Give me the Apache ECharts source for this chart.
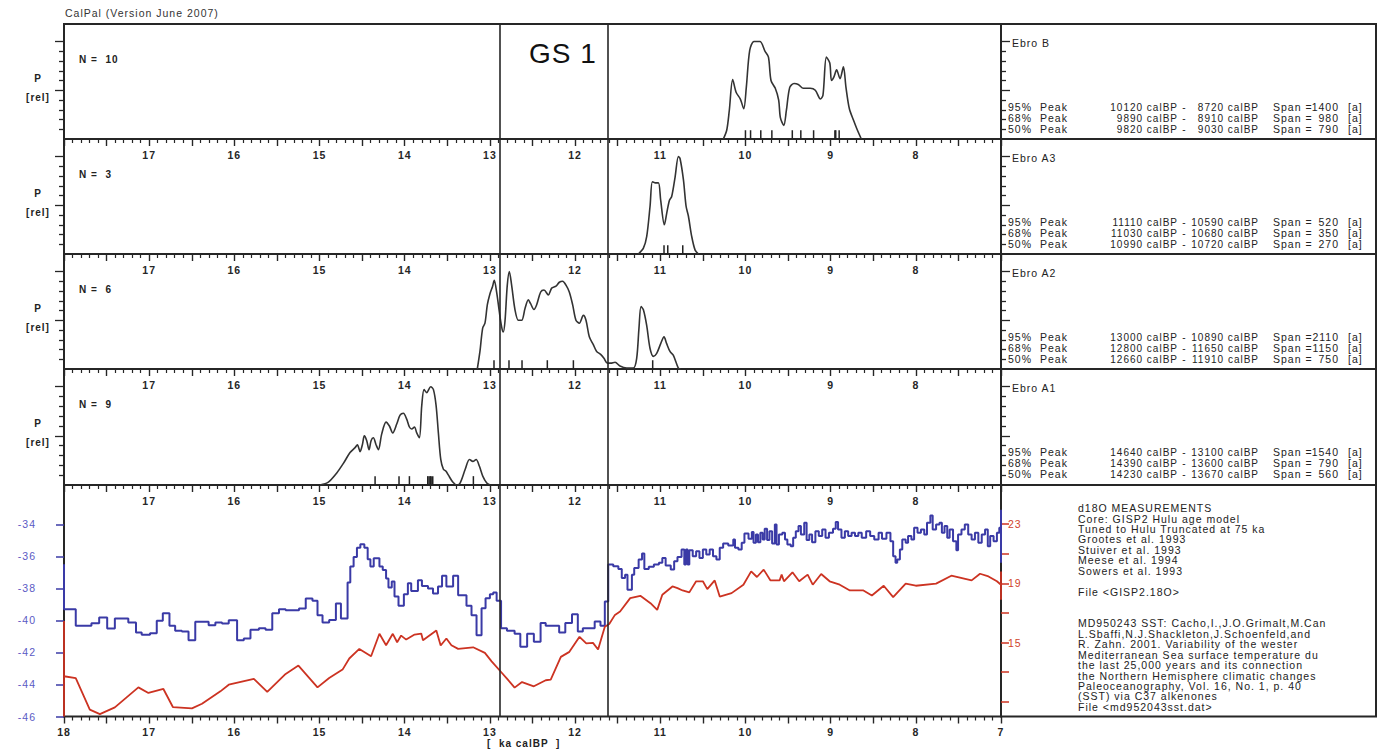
<!DOCTYPE html>
<html><head><meta charset="utf-8">
<script src="https://cdn.jsdelivr.net/npm/echarts@6/dist/echarts.min.js"></script>
<style>html,body{margin:0;padding:0;background:#fff}#c{width:1381px;height:751px}#c text{letter-spacing:1px}</style>
</head><body><div id="c"></div>
<script>
// ---------------- DATA ----------------
const sampleNames = ['Ebro B', 'Ebro A3', 'Ebro A2', 'Ebro A1'];
const sampleN = [10, 3, 6, 9];

// calibrated probability densities [ka calBP, P rel]
const densEbroB = [[10.26,0],[10.22,0.09],[10.19,0.29],[10.15,0.61],[10.11,0.48],[10.06,0.41],[10.02,0.31],[9.99,0.53],[9.95,0.91],[9.90,1.0],[9.83,1.0],[9.77,0.90],[9.73,0.84],[9.70,0.60],[9.65,0.52],[9.61,0.40],[9.59,0.22],[9.55,0.14],[9.52,0.29],[9.48,0.53],[9.43,0.57],[9.38,0.56],[9.32,0.52],[9.24,0.52],[9.18,0.50],[9.12,0.41],[9.09,0.45],[9.05,0.84],[9.01,0.78],[8.99,0.60],[8.96,0.64],[8.93,0.71],[8.89,0.62],[8.85,0.74],[8.82,0.53],[8.78,0.31],[8.73,0.19],[8.69,0.10],[8.64,0]];
const densEbroA3 = [[11.257,0],[11.198,0.06],[11.159,0.18],[11.12,0.49],[11.093,0.74],[11.061,0.73],[11.022,0.73],[10.995,0.55],[10.952,0.30],[10.924,0.42],[10.893,0.55],[10.866,0.59],[10.826,0.79],[10.787,1.0],[10.768,0.98],[10.728,0.76],[10.697,0.49],[10.67,0.39],[10.631,0.18],[10.591,0.04],[10.552,0]];
const densEbroA2 = [[13.148,0],[13.117,0.18],[13.085,0.42],[13.058,0.47],[13.03,0.66],[13.0,0.77],[12.968,0.85],[12.949,0.91],[12.921,0.79],[12.89,0.59],[12.862,0.43],[12.843,0.38],[12.823,0.49],[12.796,0.86],[12.772,1.0],[12.745,0.86],[12.706,0.61],[12.666,0.50],[12.627,0.50],[12.588,0.62],[12.549,0.71],[12.522,0.67],[12.483,0.61],[12.451,0.66],[12.404,0.79],[12.365,0.81],[12.314,0.76],[12.275,0.83],[12.224,0.85],[12.185,0.89],[12.146,0.90],[12.107,0.86],[12.068,0.79],[12.029,0.66],[11.99,0.50],[11.95,0.47],[11.903,0.55],[11.872,0.50],[11.833,0.33],[11.786,0.25],[11.747,0.18],[11.70,0.15],[11.661,0.11],[11.621,0.06],[11.582,0.06],[11.531,0.07],[11.473,0.03],[11.394,0.01],[11.316,0.01],[11.277,0.11],[11.25,0.42],[11.226,0.64],[11.199,0.61],[11.16,0.45],[11.12,0.21],[11.081,0.13],[11.042,0.16],[10.995,0.26],[10.956,0.33],[10.925,0.26],[10.886,0.18],[10.846,0.14],[10.788,0.01],[10.76,0]];
const densEbroA1 = [[14.994,0],[14.896,0.03],[14.80,0.12],[14.72,0.22],[14.642,0.33],[14.583,0.38],[14.556,0.41],[14.524,0.34],[14.497,0.41],[14.474,0.50],[14.446,0.45],[14.419,0.36],[14.395,0.45],[14.368,0.48],[14.337,0.41],[14.309,0.36],[14.27,0.52],[14.219,0.64],[14.18,0.60],[14.141,0.53],[14.094,0.62],[14.055,0.71],[14.016,0.73],[13.977,0.67],[13.945,0.59],[13.918,0.57],[13.886,0.59],[13.859,0.53],[13.828,0.48],[13.80,0.81],[13.773,0.97],[13.742,0.94],[13.695,1.0],[13.663,0.97],[13.632,0.81],[13.605,0.53],[13.577,0.26],[13.546,0.16],[13.515,0.14],[13.487,0.10],[13.436,0.03],[13.389,0],[13.35,0.02],[13.29,0.16],[13.24,0.26],[13.20,0.24],[13.162,0.26],[13.123,0.19],[13.084,0.09],[13.037,0.02],[12.998,0]];

// single 14C dates (ka calBP) shown as rug ticks
const datesEbroB = [10.00, 9.94, 9.82, 9.69, 9.45, 9.35, 9.20, 8.95, 8.94, 8.90];
const datesEbroA3 = [10.956, 10.912, 10.736];
const datesEbroA2 = [12.952, 12.776, 12.623, 12.326, 12.02, 11.089];
const datesEbroA1 = [14.348, 14.067, 13.945, 13.73, 13.714, 13.699, 13.69, 13.671, 13.194];

// peak ranges [from calBP, to calBP, span a] for 95 / 68 / 50 %
const peakLevels = ['95%', '68%', '50%'];
const statsEbroB = [[10120, 8720, 1400], [9890, 8910, 980], [9820, 9030, 790]];
const statsEbroA3 = [[11110, 10590, 520], [11030, 10680, 350], [10990, 10720, 270]];
const statsEbroA2 = [[13000, 10890, 2110], [12800, 11650, 1150], [12660, 11910, 750]];
const statsEbroA1 = [[14640, 13100, 1540], [14390, 13600, 790], [14230, 13670, 560]];

// GISP2 d18O (step curve) [ka, permil]
const gisp2d18O = [[18.0,-36.49],[18.0,-39.30],[17.862,-40.34],[17.678,-40.18],[17.587,-39.82],[17.493,-40.51],[17.403,-39.89],[17.245,-40.13],[17.155,-40.76],[17.088,-40.90],[16.99,-40.80],[16.911,-40.03],[16.84,-39.55],[16.762,-40.34],[16.695,-40.65],[16.616,-40.70],[16.538,-41.24],[16.459,-40.09],[16.302,-40.30],[16.223,-40.13],[16.145,-40.20],[16.066,-39.99],[15.968,-41.24],[15.889,-41.13],[15.811,-40.59],[15.712,-40.49],[15.634,-40.59],[15.555,-39.55],[15.476,-39.30],[15.398,-39.37],[15.241,-39.26],[15.162,-38.64],[15.083,-38.78],[15.024,-39.68],[14.965,-40.13],[14.887,-39.97],[14.808,-38.95],[14.749,-39.89],[14.671,-37.64],[14.639,-36.64],[14.60,-36.04],[14.561,-35.46],[14.521,-35.25],[14.474,-35.46],[14.435,-36.18],[14.403,-36.64],[14.364,-36.12],[14.297,-36.64],[14.258,-36.85],[14.219,-37.39],[14.191,-37.95],[14.152,-37.58],[14.12,-38.51],[14.073,-39.09],[14.01,-38.37],[13.963,-37.68],[13.924,-38.16],[13.845,-37.49],[13.798,-37.85],[13.727,-38.01],[13.668,-38.33],[13.609,-37.89],[13.562,-37.22],[13.511,-37.89],[13.432,-37.22],[13.373,-38.43],[13.275,-39.09],[13.216,-39.68],[13.157,-40.93],[13.098,-39.24],[13.051,-38.62],[13.0,-38.37],[12.961,-38.26],[12.921,-38.78],
[12.869,-40.49],[12.80,-40.64],[12.71,-40.84],[12.643,-41.64],[12.563,-40.84],[12.484,-41.33],[12.405,-40.17],[12.345,-40.34],[12.187,-40.76],[12.115,-40.17],[12.036,-39.61],[11.968,-40.70],[11.909,-40.49],[11.77,-40.07],[11.702,-40.34],[11.651,-38.82],[11.611,-36.52],[11.552,-36.62],[11.492,-36.79],[11.452,-37.36],[11.413,-37.15],[11.385,-38.09],[11.333,-37.15],[11.306,-36.73],[11.254,-36.20],[11.214,-35.83],[11.187,-36.79],[11.135,-36.66],[11.075,-36.52],[11.016,-36.41],[10.976,-36.10],[10.937,-36.58],[10.877,-36.83],[10.837,-36.31],[10.798,-36.04],[10.75,-35.58],[10.718,-36.52],[10.698,-35.58],[10.679,-36.52],[10.659,-35.62],[10.619,-36.00],[10.579,-35.68],[10.54,-36.10],[10.50,-35.58],[10.46,-35.89],[10.42,-35.58],[10.381,-36.00],[10.341,-36.20],[10.302,-35.47],[10.262,-35.20],[10.202,-35.33],[10.143,-34.95],[10.123,-35.47],[10.083,-35.58],[10.044,-35.16],[10.012,-34.57],[9.964,-34.91],[9.925,-34.49],[9.905,-35.16],[9.877,-34.64],[9.853,-35.12],[9.825,-34.53],[9.798,-34.95],[9.774,-34.28],[9.746,-34.99],[9.718,-34.43],[9.687,-35.20],[9.655,-34.01],[9.635,-35.27],[9.607,-34.64],[9.567,-34.53],[9.536,-34.95],[9.508,-35.27],[9.468,-35.37],[9.44,-34.85],[9.409,-34.43],[9.377,-34.11],[9.349,-34.64],[9.31,-33.91],[9.282,-34.99],[9.25,-34.64],[9.218,-35.12],[9.179,-34.43],[9.139,-34.74],[9.099,-34.32],[9.06,-34.85],[9.02,-34.53],[8.972,-34.28],[8.94,-33.86],[8.913,-34.32],[8.873,-34.85],[8.833,-34.43],[8.794,-34.74],[8.754,-34.53],[8.714,-34.74],[8.675,-34.53],[8.635,-34.85],[8.583,-34.43],[8.536,-34.74],[8.488,-34.95],[8.437,-34.53],[8.397,-34.91],[8.345,-34.53],[8.298,-35.06],[8.266,-36.00],[8.238,-36.41],[8.218,-36.20],[8.187,-35.58],[8.159,-34.95],[8.119,-35.16],[8.091,-34.74],[8.052,-34.95],[8.02,-34.22],[7.98,-34.53],[7.94,-34.32],[7.901,-34.64],[7.869,-33.91],[7.829,-33.45],[7.802,-34.32],[7.762,-34.01],[7.722,-33.91],[7.694,-34.53],[7.663,-34.11],[7.631,-34.85],[7.603,-34.32],[7.563,-35.06],[7.524,-35.62],[7.504,-34.64],[7.464,-34.32],[7.425,-34.01],[7.385,-34.64],[7.345,-34.95],[7.306,-34.53],[7.266,-35.16],[7.226,-34.64],[7.187,-34.32],[7.155,-35.37],[7.127,-34.74],[7.087,-35.06],[7.048,-34.53],[7.02,-34.22],[7.0,-35.16],[7.0,-33.1],[7.0,-36.4]];

// MD950243 SST [ka, deg C]
const md950243SST = [[18.0,16.45],[18.0,10.0],[18.0,12.72],[17.862,12.60],[17.697,10.46],[17.579,10.16],[17.403,10.62],[17.127,11.97],[17.009,11.59],[16.833,11.86],[16.722,10.64],[16.498,10.55],[16.38,10.86],[16.164,11.70],[16.066,12.15],[15.771,12.54],[15.614,11.66],[15.398,12.88],[15.248,13.44],[15.024,11.97],[14.887,12.60],[14.73,13.17],[14.651,13.92],[14.533,14.57],[14.395,14.07],[14.297,15.59],[14.219,14.82],[14.14,15.59],[14.089,15.02],[14.042,15.47],[13.983,15.20],[13.884,15.54],[13.806,15.61],[13.786,15.16],[13.629,15.81],[13.578,14.80],[13.511,15.27],[13.452,14.82],[13.373,14.57],[13.197,14.68],[13.059,14.30],[12.98,13.73],[12.869,13.01],[12.80,12.56],[12.71,11.95],[12.623,12.33],[12.484,12.04],[12.345,12.45],[12.286,12.49],[12.167,14.03],[12.067,14.37],[11.948,15.39],[11.869,14.94],[11.79,14.98],[11.73,14.53],[11.651,16.07],[11.599,16.26],[11.532,16.87],[11.472,17.10],[11.353,18.00],[11.234,18.16],[11.115,17.66],[11.036,17.21],[10.976,18.23],[10.857,18.79],[10.798,18.68],[10.738,18.52],[10.659,18.39],[10.579,19.14],[10.5,19.14],[10.448,18.61],[10.361,19.20],[10.302,18.11],[10.163,18.34],[10.024,18.91],[9.933,19.81],[9.865,19.43],[9.786,19.93],[9.706,19.20],[9.599,19.20],[9.575,19.59],[9.548,19.14],[9.448,19.75],[9.369,19.14],[9.27,19.59],[9.21,18.91],[9.111,19.63],[9.012,19.14],[8.893,18.91],[8.774,18.52],[8.615,18.52],[8.516,18.18],[8.377,18.84],[8.266,18.07],[8.119,18.98],[8.0,18.84],[7.762,18.98],[7.583,19.52],[7.345,19.20],[7.246,19.65],[7.147,19.47],[7.048,19.14],[7.0,18.91],[7.0,19.8],[7.0,17.9]];

const gs1Bounds = [12.89, 11.62];
const gs1Label = 'GS 1';
const d18OTicks = [-46, -44, -42, -40, -38, -36, -34];
const sstTicks = [11, 13, 15, 17, 19, 21, 23];
const sstLabels = [15, 19, 23];
const pMajorTicks = [0.5, 1.0];
const pMinorTicks = [0.1, 0.2, 0.3, 0.4, 0.6, 0.7, 0.8, 0.9];
const headerText = 'CalPal (Version June 2007)';
const xAxisTitle = '[  ka calBP  ]';
const refLines = [
  'd18O MEASUREMENTS',
  'Core: GISP2 Hulu age model',
  'Tuned to Hulu Truncated at 75 ka',
  'Grootes et al. 1993',
  'Stuiver et al. 1993',
  'Meese et al. 1994',
  'Sowers et al. 1993',
  '',
  'File <GISP2.18O>',
  '',
  '',
  'MD950243 SST: Cacho,I.,J.O.Grimalt,M.Can',
  'L.Sbaffi,N.J.Shackleton,J.Schoenfeld,and',
  'R. Zahn. 2001. Variability of the wester',
  'Mediterranean Sea surface temperature du',
  'the last 25,000 years and its connection',
  'the Northern Hemisphere climatic changes',
  'Paleoceanography, Vol. 16, No. 1, p. 40',
  '(SST) via C37 alkenones',
  'File <md952043sst.dat>'
];

// ---------------- LAYOUT ----------------
const dens = [densEbroB, densEbroA3, densEbroA2, densEbroA1];
const dates = [datesEbroB, datesEbroA3, datesEbroA2, datesEbroA1];
const stats = [statsEbroB, statsEbroA3, statsEbroA2, statsEbroA1];
const TOPS = [24, 139, 254, 369, 485];
const HEIGHTS = [115, 115, 115, 116, 231.5];
const LEFT = 64, WIDTH = 937, BOX_R = 1376;
const P_MAX = 1.18, RUG_H = 0.09;
const INK = '#262626';
const BLUE = '#3a3aa6', BLUE_LBL = '#5a5ac4', RED = '#cc3322', RED_LBL = '#d0442c';
const FONT = '"Liberation Sans", Arial, sans-serif';
const TF = '10.5px ' + FONT;
const SF = '10px ' + FONT;

const grids = TOPS.map((t, i) => ({
  left: LEFT, top: t, width: WIDTH, height: HEIGHTS[i],
  show: true, borderColor: INK, borderWidth: 2, backgroundColor: 'transparent'
}));

const xAxes = TOPS.map((t, i) => ({
  type: 'value', gridIndex: i, min: 7, max: 18, inverse: true, interval: 0.5,
  position: 'bottom',
  axisLine: { show: false },
  splitLine: { show: false },
  axisTick: { show: true, inside: false, length: 7, lineStyle: { color: INK, width: 1.4 } },
  minorTick: { show: true, splitNumber: 5, length: 4, lineStyle: { color: INK, width: 1.2 } },
  minorSplitLine: { show: false },
  axisLabel: {
    margin: 10, color: INK, fontFamily: FONT, fontSize: 10.5, fontWeight: 'bold',
    formatter: v => {
      const r = Math.round(v * 10) / 10;
      if (!Number.isInteger(r)) return '';
      if (i < 4 && (r === 18 || r === 7)) return '';
      return String(r);
    }
  }
}));

function pAxis(i, pos, ticks, len) {
  return {
    type: 'value', gridIndex: i, position: pos, min: 0, max: P_MAX,
    axisLine: { show: false }, splitLine: { show: false }, axisLabel: { show: false },
    axisTick: { show: true, inside: false, customValues: ticks, length: len, lineStyle: { color: INK, width: 1.3 } }
  };
}
const yAxes = [];
for (let i = 0; i < 4; i++) {
  yAxes.push(pAxis(i, 'left', pMajorTicks, 9));
  yAxes.push(pAxis(i, 'left', pMinorTicks, 5));
  yAxes.push(pAxis(i, 'right', pMajorTicks, 9));
  yAxes.push(pAxis(i, 'right', pMinorTicks, 5));
}
yAxes.push({
  type: 'value', gridIndex: 4, position: 'left', min: -46, max: -31.55,
  axisLine: { show: false }, splitLine: { show: false },
  axisTick: { show: true, customValues: d18OTicks, length: 8, lineStyle: { color: BLUE, width: 1.5 } },
  axisLabel: { customValues: d18OTicks, margin: 28, color: BLUE_LBL, fontFamily: FONT, fontSize: 10.5 }
});
yAxes.push({
  type: 'value', gridIndex: 4, position: 'right', min: 10, max: 25.65,
  axisLine: { show: false }, splitLine: { show: false },
  axisTick: { show: true, customValues: sstTicks, length: 8, lineStyle: { color: RED, width: 1.5 } },
  axisLabel: { customValues: sstLabels, margin: 7, color: RED_LBL, fontFamily: FONT, fontSize: 10.5 }
});

const gsMarkLine = {
  silent: true, symbol: ['none', 'none'], animation: false,
  label: { show: false },
  lineStyle: { color: INK, width: 1.6, type: 'solid' },
  data: gs1Bounds.map(v => ({ xAxis: v }))
};

const series = [];
for (let i = 0; i < 4; i++) {
  series.push({
    type: 'line', xAxisIndex: i, yAxisIndex: 4 * i, data: dens[i],
    smooth: 0.3, symbol: 'none', silent: true,
    lineStyle: { color: '#333', width: 1.6 },
    markLine: gsMarkLine
  });
  series.push({
    type: 'custom', xAxisIndex: i, yAxisIndex: 4 * i, silent: true,
    data: dates[i].map(d => [d, 0]), encode: { x: 0, y: 1 },
    renderItem: (params, api) => {
      const x = api.value(0);
      const a = api.coord([x, 0]);
      const b = api.coord([x, RUG_H]);
      return { type: 'line', shape: { x1: a[0], y1: a[1], x2: b[0], y2: b[1] }, style: { stroke: '#222', lineWidth: 1.5 } };
    }
  });
}
series.push({
  type: 'line', xAxisIndex: 4, yAxisIndex: 16, data: gisp2d18O, step: 'end',
  symbol: 'none', silent: true, lineStyle: { color: BLUE, width: 2 }, markLine: gsMarkLine
});
series.push({
  type: 'line', xAxisIndex: 4, yAxisIndex: 17, data: md950243SST,
  symbol: 'none', silent: true, lineStyle: { color: RED, width: 1.8 }
});

// ---------------- TEXT / BOXES ----------------
function txt(x, y, text, o) {
  return { type: 'text', x: x, y: y, silent: true, z: 100,
    style: Object.assign({ text: text, fill: '#222', font: TF, textAlign: 'left', textVerticalAlign: 'middle' }, o || {}) };
}
const g = [];
g.push(txt(65, 13, headerText, { fill: '#333' }));
g.push({ type: 'rect', silent: true, shape: { x: LEFT + WIDTH, y: TOPS[0], width: BOX_R - LEFT - WIDTH, height: TOPS[4] + HEIGHTS[4] - TOPS[0] },
  style: { fill: 'none', stroke: INK, lineWidth: 2 } });
for (let i = 1; i < 5; i++) {
  g.push({ type: 'line', silent: true, shape: { x1: LEFT + WIDTH, y1: TOPS[i], x2: BOX_R, y2: TOPS[i] }, style: { stroke: INK, lineWidth: 2 } });
}
for (let i = 0; i < 4; i++) {
  const t = TOPS[i];
  g.push(txt(38, t + 54, 'P', { font: 'bold 10px ' + FONT, textAlign: 'center' }));
  g.push(txt(38, t + 73, '[rel]', { font: 'bold 10px ' + FONT, textAlign: 'center' }));
  g.push(txt(79, t + 35, 'N =  ' + sampleN[i], { font: 'bold 10px ' + FONT }));
  g.push(txt(1012, t + 19, sampleNames[i]));
  stats[i].forEach((row, r) => {
    const y = t + 83 + 11 * r;
    g.push(txt(1008, y, peakLevels[r]));
    g.push(txt(1040, y, 'Peak'));
    g.push(txt(1178, y, row[0] + ' calBP', { textAlign: 'right', font: SF }));
    g.push(txt(1184.5, y, '-', { textAlign: 'center', font: SF }));
    g.push(txt(1259, y, row[1] + ' calBP', { textAlign: 'right', font: SF }));
    g.push(txt(1273, y, 'Span =', {}));
    g.push(txt(1339, y, String(row[2]), { textAlign: 'right' }));
    g.push(txt(1348, y, '[a]'));
  });
}
g.push({ type: 'text', x: 1078, y: 502.8, silent: true, z: 100,
  style: { text: refLines.join('\n'), fill: '#222', font: TF, lineHeight: 10.47, textAlign: 'left', textVerticalAlign: 'top' } });
g.push(txt(563, 53, gs1Label, { font: '28px ' + FONT, textAlign: 'center', fill: '#111' }));
g.push(txt(487, 743, xAxisTitle, { font: 'bold 10px ' + FONT, fill: '#222' }));

const chart = echarts.init(document.getElementById('c'), null, { renderer: 'svg' });
chart.setOption({
  animation: false,
  backgroundColor: '#fff',
  grid: grids,
  xAxis: xAxes,
  yAxis: yAxes,
  series: series,
  graphic: g
});
</script></body></html>
